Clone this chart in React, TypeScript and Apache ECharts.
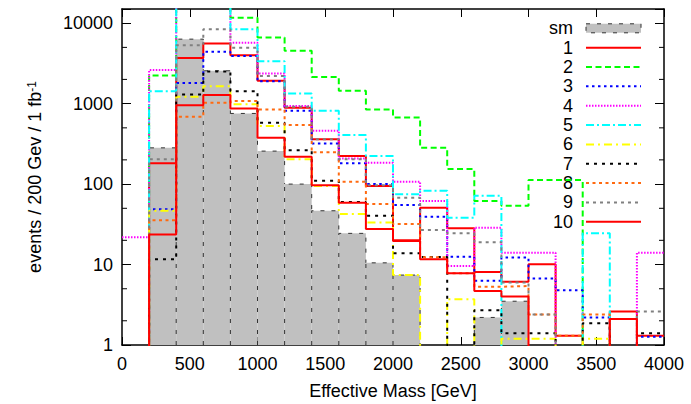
import React, { useEffect, useRef } from 'react';
import * as echarts from 'echarts';

// Left edges of the 200 GeV bins
const binStarts = [0, 200, 400, 600, 800, 1000, 1200, 1400, 1600, 1800, 2000, 2200, 2400, 2600, 2800, 3000, 3200, 3400, 3600, 3800];
const BIN_WIDTH = 200;

// Events per bin (0 = empty bin; values above the frame are clipped)
const smValues = [0, 282, 6330, 2560, 755, 257, 100, 46.6, 24.4, 10.5, 7.4, 0, 0, 2.2, 3.5, 0, 0, 0, 0, 0];
const s1 = [0, 181, 3700, 5600, 4000, 1930, 887, 362, 223, 94.5, 20, 50.8, 28.2, 8.1, 6.1, 10.1, 1.3, 0, 2.6, 1.3];
const s2 = [0, 2240, 20000, 20000, 11640, 6640, 4530, 2150, 1443, 847, 674, 282, 154, 61.5, 53.7, 112, 112, 0, 0, 0];
const s3 = [0, 48.5, 1810, 4400, 3900, 1900, 815, 320, 181, 100, 55, 39.3, 12.5, 6.3, 12.2, 6.7, 4.8, 2.2, 0, 1.27];
const s4 = [21.8, 2610, 20000, 20000, 5690, 2370, 931, 459, 208, 184, 107, 61.5, 9.6, 28.7, 14, 14, 0, 0, 0, 14];
const s5 = [0, 1430, 20000, 20000, 8420, 3370, 1340, 814, 406, 223, 74.5, 82.6, 38.2, 71.6, 0, 0, 0, 24.4, 0, 0];
const s6 = [0, 46.6, 1215, 1650, 980, 526, 203, 95, 42.4, 33.4, 7.4, 0, 3.7, 0, 1.2, 1.2, 0, 1.2, 0, 0];
const s7 = [0, 11.6, 1300, 2500, 1430, 578, 264, 110, 60, 40.4, 13.8, 12.4, 0, 2.7, 1.4, 1.4, 0, 1.86, 0, 1.4];
const s8 = [0, 35.4, 686, 1023, 1075, 847, 541, 248, 107, 56.5, 31.8, 12.3, 7.8, 5.3, 5.4, 2.4, 1.3, 2.4, 0, 0];
const s9 = [0, 204, 5330, 8420, 4940, 2200, 912, 362, 203, 97, 67.6, 26.8, 24.4, 18.9, 6.0, 2.4, 0, 0, 0, 2.6];
const s10 = [0, 23.7, 958, 1276, 870, 376, 218, 97, 58.6, 27.6, 19.6, 11.6, 7.8, 4.7, 4.0, 0, 0, 0, 2.1, 0];

const seriesNames = ['1', '2', '3', '4', '5', '6', '7', '8', '9', '10'];
const seriesValues = [s1, s2, s3, s4, s5, s6, s7, s8, s9, s10];
const smName = 'sm';

// Axis ticks
const xMin = 0;
const xMax = 4000;
const xInterval = 500;
const yMin = 1;
const yMax = 15000;
const yMinorTicks = [2, 5, 20, 50, 200, 500, 2000, 5000];

const FONT = "'Liberation Sans', Arial, Helvetica, sans-serif";
const FLOOR = 0.001; // stand-in for empty bins on the log axis (clipped)

const lineStyles: Record<string, { color: string; type: any }> = {
  '1': { color: '#ff0000', type: 'solid' },
  '2': { color: '#00ff00', type: [6, 3.5] },
  '3': { color: '#0000ff', type: [2.5, 3.5] },
  '4': { color: '#ff00ff', type: [1.5, 1.5] },
  '5': { color: '#00ffff', type: [8, 3, 2, 3] },
  '6': { color: '#ffff00', type: [8, 4, 2, 4] },
  '7': { color: '#000000', type: [3, 5] },
  '8': { color: '#ff6a10', type: [3, 3.5] },
  '9': { color: '#808080', type: [3, 4] },
  '10': { color: '#ff0000', type: 'solid' },
};

function isPow10(v: number) {
  const l = Math.log10(v);
  return Math.abs(l - Math.round(l)) < 1e-6;
}

export default function App() {
  const ref = useRef<HTMLDivElement>(null);

  useEffect(() => {
    if (!ref.current) return;
    const chart = echarts.init(ref.current, null, { renderer: 'svg' });

    const smData = binStarts
      .map((x, i) => [x, smValues[i], smValues[i + 1] ?? 0])
      .filter((d) => d[1] > 0);

    const lineSeries = seriesNames.map((name, k) => {
      const vals = seriesValues[k];
      const data = binStarts.map((x, i) => [x, vals[i] > 0 ? vals[i] : FLOOR]);
      data.push([binStarts[binStarts.length - 1] + BIN_WIDTH, vals[vals.length - 1] > 0 ? vals[vals.length - 1] : FLOOR]);
      const st = lineStyles[name];
      return {
        name,
        type: 'line',
        step: 'end',
        data,
        symbol: 'none',
        clip: true,
        silent: true,
        lineStyle: { color: st.color, width: 2, type: st.type },
        z: 3 + k * 0.01,
      };
    });

    const legendRows = [smName, ...seriesNames];
    const legendGraphics: any[] = [];
    legendRows.forEach((name, i) => {
      const y = 28.3 + i * 19.35;
      legendGraphics.push({
        type: 'text',
        x: 573,
        y,
        style: { text: name, align: 'right', verticalAlign: 'middle', fontSize: 18, fontFamily: FONT, fill: '#000' },
      });
      if (name === smName) {
        legendGraphics.push({
          type: 'rect',
          shape: { x: 586, y: y - 4.5, width: 55, height: 9 },
          style: { fill: '#c0c0c0', stroke: '#333', lineWidth: 1, lineDash: [4, 7] },
        });
      } else {
        const st = lineStyles[name];
        legendGraphics.push({
          type: 'line',
          shape: { x1: 586, y1: y, x2: 641, y2: y },
          style: { stroke: st.color, lineWidth: 2, lineDash: st.type === 'solid' ? null : st.type },
        });
      }
    });

    const axisLine = { show: true, onZero: false, lineStyle: { color: '#000', width: 1.5 } };

    chart.setOption({
      animation: false,
      backgroundColor: '#fff',
      grid: { left: 122, right: 27, top: 9, bottom: 59, outerBoundsMode: 'none' },
      xAxis: [
        {
          type: 'value',
          min: xMin,
          max: xMax,
          interval: xInterval,
          position: 'bottom',
          axisLine,
          axisTick: { inside: true, length: 8, lineStyle: { color: '#000', width: 1 } },
          axisLabel: { color: '#000', fontSize: 18, fontFamily: FONT, margin: 10, formatter: (v: number) => String(v) },
          splitLine: { show: false },
          name: 'Effective Mass [GeV]',
          nameLocation: 'middle',
          nameGap: 37,
          nameTextStyle: { color: '#000', fontSize: 18, fontFamily: FONT },
        },
        {
          type: 'value',
          min: xMin,
          max: xMax,
          interval: xInterval,
          position: 'top',
          axisLine,
          axisTick: { inside: true, length: 8, lineStyle: { color: '#000', width: 1 } },
          axisLabel: { show: false },
          splitLine: { show: false },
        },
      ],
      yAxis: [
        {
          type: 'log',
          logBase: 10,
          min: yMin,
          max: yMax,
          position: 'left',
          axisLine,
          axisTick: { inside: true, length: 9, lineStyle: { color: '#000', width: 1 } },
          axisLabel: {
            color: '#000',
            fontSize: 18,
            fontFamily: FONT,
            margin: 9,
            formatter: (v: number) => (isPow10(v) ? String(Math.round(v)) : ''),
          },
          splitLine: { show: false },
          minorTick: { show: false },
          name: 'events / 200 Gev / 1 fb{sup|-1}',
          nameLocation: 'middle',
          nameGap: 78,
          nameTextStyle: {
            color: '#000',
            fontSize: 18,
            fontFamily: FONT,
            rich: { sup: { fontSize: 12, fontFamily: FONT, color: '#000', verticalAlign: 'top' } },
          },
        },
        {
          type: 'log',
          logBase: 10,
          min: yMin,
          max: yMax,
          position: 'right',
          axisLine,
          axisTick: { inside: true, length: 9, lineStyle: { color: '#000', width: 1 } },
          axisLabel: { show: false },
          splitLine: { show: false },
          minorTick: { show: false },
        },
      ],
      series: [
        {
          name: smName,
          type: 'custom',
          data: smData,
          clip: true,
          silent: true,
          z: 2,
          renderItem: (params: any, api: any) => {
            const x0 = api.value(0);
            const v = api.value(1);
            const next = api.value(2);
            const tl = api.coord([x0, v]);
            const tr = api.coord([x0 + BIN_WIDTH, v]);
            const bl = api.coord([x0, yMin]);
            const br = api.coord([x0 + BIN_WIDTH, yMin]);
            let rightEnd = tr[1];
            if (next < v) rightEnd = next > 0 ? api.coord([x0 + BIN_WIDTH, next])[1] : br[1];
            return {
              type: 'group',
              children: [
                {
                  type: 'rect',
                  shape: { x: tl[0], y: tl[1], width: tr[0] - tl[0], height: bl[1] - tl[1] },
                  style: { fill: '#c0c0c0' },
                },
                {
                  type: 'polyline',
                  shape: { points: [[bl[0], bl[1]], [tl[0], tl[1]], [tr[0], tr[1]], [tr[0], rightEnd]] },
                  style: { stroke: '#333', lineWidth: 1, lineDash: [4, 7], fill: null },
                },
              ],
            };
          },
        },
        ...lineSeries,
        {
          name: 'minorTicks',
          type: 'custom',
          data: yMinorTicks.map((v) => [xMin, v]),
          silent: true,
          z: 10,
          renderItem: (params: any, api: any) => {
            const v = api.value(1);
            const pl = api.coord([xMin, v]);
            const pr = api.coord([xMax, v]);
            return {
              type: 'group',
              children: [
                { type: 'line', shape: { x1: pl[0], y1: pl[1], x2: pl[0] + 5, y2: pl[1] }, style: { stroke: '#000', lineWidth: 1 } },
                { type: 'line', shape: { x1: pr[0] - 5, y1: pr[1], x2: pr[0], y2: pr[1] }, style: { stroke: '#000', lineWidth: 1 } },
              ],
            };
          },
        },
      ],
      graphic: legendGraphics,
    });

    return () => chart.dispose();
  }, []);

  return <div ref={ref} style={{ position: 'fixed', left: 0, top: 0, width: 691, height: 404 }} />;
}
